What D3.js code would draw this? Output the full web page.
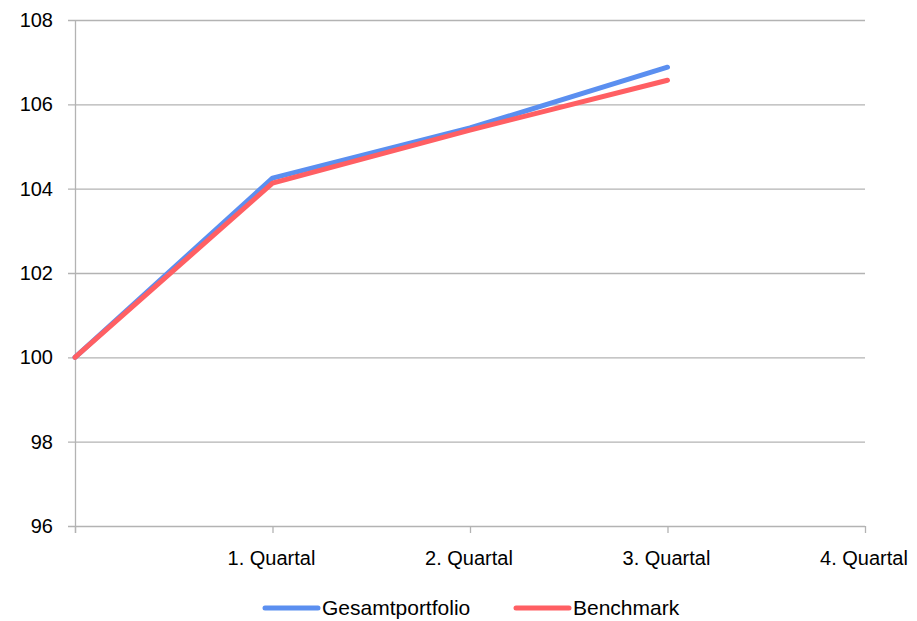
<!DOCTYPE html>
<html>
<head>
  <meta charset="utf-8">
  <script src="https://d3js.org/d3.v7.min.js"></script>
  <style>
    body { margin: 0; background: #fff; }
    svg text { font-family: "Liberation Sans", Arial, sans-serif; fill: #000; }
  </style>
</head>
<body>
  <div id="chart"></div>
  <script>
    // data
    var categories = ["", "1. Quartal", "2. Quartal", "3. Quartal", "4. Quartal"];
    var gesamtportfolio = [100, 104.25, 105.44, 106.88];
    var benchmark = [100, 104.13, 105.39, 106.57];
    var yTicks = [96, 98, 100, 102, 104, 106, 108];

    var width = 917, height = 621;
    var mLeft = 75, mRight = 865, mTop = 20, mBottom = 526;

    var svg = d3.select('#chart').append('svg')
      .attr('width', width)
      .attr('height', height);

    var x = d3.scaleLinear().domain([0, categories.length - 1]).range([mLeft, mRight]);
    var y = d3.scaleLinear().domain([96, 108]).range([mBottom, mTop]);

    // horizontal gridlines
    svg.append('g').selectAll('line').data(yTicks).enter().append('line')
      .attr('x1', mLeft - 7).attr('x2', mRight)
      .attr('y1', function(d){ return y(d) + 0.5; })
      .attr('y2', function(d){ return y(d) + 0.5; })
      .style('stroke', '#b3b3b3').style('stroke-width', 1.3);

    // y labels
    svg.append('g').selectAll('text').data(yTicks).enter().append('text')
      .attr('x', mLeft - 22)
      .attr('y', function(d){ return y(d); })
      .attr('dy', '0.35em')
      .attr('text-anchor', 'end')
      .style('font-size', '20px')
      .text(function(d){ return d; });

    // y axis line
    svg.append('line')
      .attr('x1', mLeft + 0.5).attr('x2', mLeft + 0.5)
      .attr('y1', mTop).attr('y2', mBottom + 7)
      .style('stroke', '#b3b3b3').style('stroke-width', 1.3);

    // x ticks
    svg.append('g').selectAll('line').data(categories).enter().append('line')
      .attr('x1', function(d, i){ return x(i) + 0.5; })
      .attr('x2', function(d, i){ return x(i) + 0.5; })
      .attr('y1', mBottom).attr('y2', mBottom + 7)
      .style('stroke', '#b3b3b3').style('stroke-width', 1.3);

    // x labels
    svg.append('g').selectAll('text').data(categories).enter().append('text')
      .attr('x', function(d, i){ return x(i) - 1; })
      .attr('y', 565)
      .attr('text-anchor', 'middle')
      .style('font-size', '20px')
      .text(function(d){ return d; });

    var line = d3.line()
      .x(function(d, i){ return x(i); })
      .y(function(d){ return y(d); });

    var series = [
      { name: 'Gesamtportfolio', values: gesamtportfolio, color: '#5b8ff0' },
      { name: 'Benchmark', values: benchmark, color: '#ff5f63' }
    ];

    svg.append('g').selectAll('path').data(series).enter().append('path')
      .attr('d', function(s){ return line(s.values); })
      .style('fill', 'none')
      .style('stroke', function(s){ return s.color; })
      .style('stroke-width', 5)
      .style('stroke-linecap', 'round')
      .style('stroke-linejoin', 'round');

    // legend
    var legendX = [263, 514];
    var lg = svg.append('g').selectAll('g').data(series).enter().append('g')
      .attr('transform', function(s, i){ return 'translate(' + legendX[i] + ',608)'; });
    lg.append('line')
      .attr('x1', 2).attr('x2', 55)
      .style('stroke', function(s){ return s.color; })
      .style('stroke-width', 5)
      .style('stroke-linecap', 'round');
    lg.append('text')
      .attr('x', 59)
      .attr('dy', '0.35em')
      .style('font-size', '21px')
      .text(function(s){ return s.name; });
  </script>
</body>
</html>
